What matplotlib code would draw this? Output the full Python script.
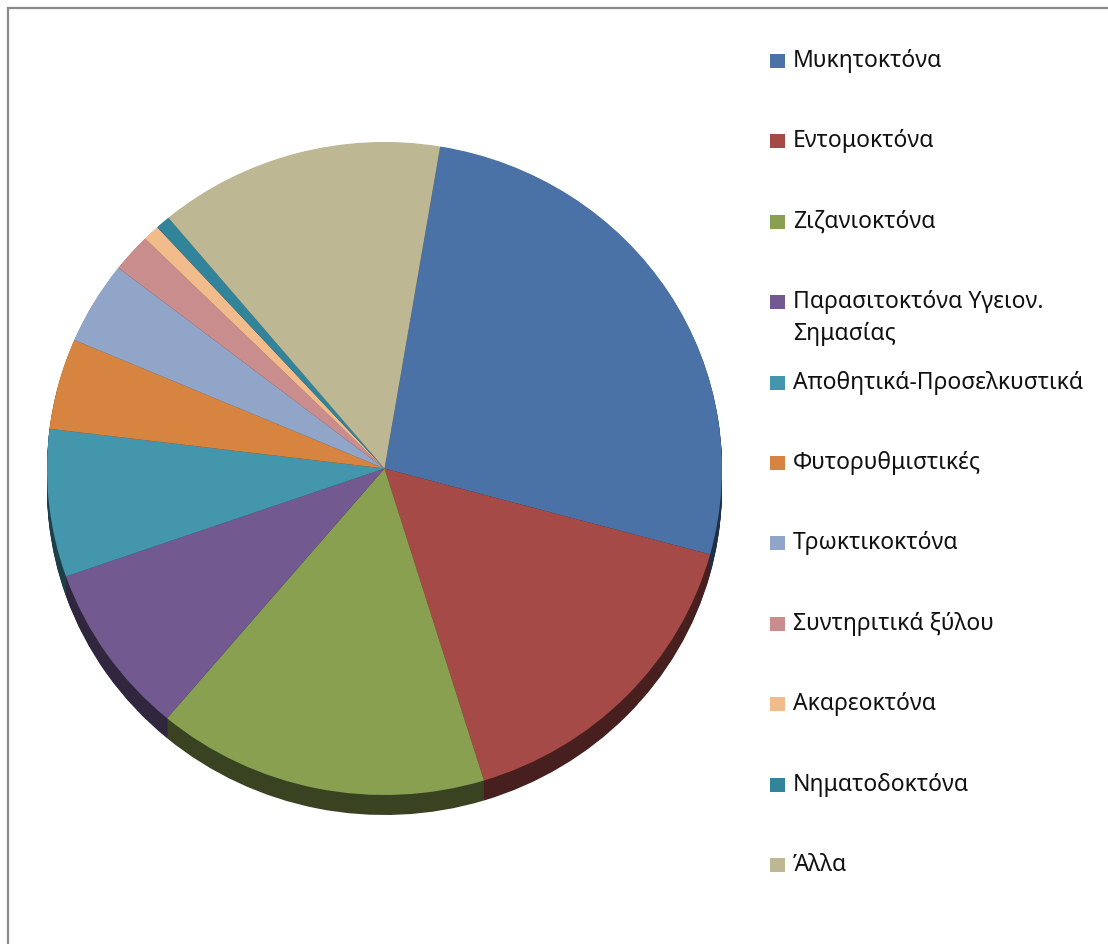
import matplotlib
matplotlib.use("Agg")
import matplotlib.pyplot as plt
from matplotlib.patches import Rectangle
import numpy as np

plt.rcParams['font.family'] = ['Noto Sans', 'DejaVu Sans']

# data (percent shares)
labels = ['Μυκητοκτόνα', 'Εντομοκτόνα', 'Ζιζανιοκτόνα',
          'Παρασιτοκτόνα Υγειον.\nΣημασίας', 'Αποθητικά-Προσελκυστικά',
          'Φυτορυθμιστικές', 'Τρωκτικοκτόνα', 'Συντηριτικά ξύλου',
          'Ακαρεοκτόνα', 'Νηματοδοκτόνα', 'Άλλα']
shares = [26.6, 16.0, 15.9, 8.5, 7.3, 4.5, 4.1, 1.9, 0.8, 0.7, 13.7]
colors = ['#4A72A6', '#A64A47', '#88A050', '#725A91', '#4496AC', '#D6843F',
          '#91A5C8', '#C98D8D', '#F2BB8B', '#32849B', '#BDB793']

W, H = 1108, 944
fig = plt.figure(figsize=(W / 100, H / 100), dpi=100)

# pie geometry in pixels
cx, cy = 384.5, 468.5
rx, ry = 337.5, 326.5
depth = 20

ax = fig.add_axes([(cx - rx) / W, (H - cy - ry - depth) / H, 2 * rx / W, (2 * ry + depth) / H])

side = [tuple(np.array(matplotlib.colors.to_rgb(c)) * 0.42) for c in colors]
for k in np.linspace(depth / ry, 0.002, 22):
    ax.pie(shares, colors=side, startangle=80.5, counterclock=False,
           center=(0, -k), wedgeprops=dict(linewidth=0))
ax.pie(shares, colors=colors, startangle=80.5, counterclock=False,
       wedgeprops=dict(linewidth=0))
ax.set_aspect('auto')
ax.set_xlim(-1, 1)
ax.set_ylim(-1 - depth / ry, 1)
ax.axis('off')

# legend drawn by hand (one entry every ~80 px)
for i, (lab, col) in enumerate(zip(labels, colors)):
    yc = 61 + 80.4 * i
    fig.add_artist(Rectangle((770 / W, 1 - (yc + 7) / H), 15 / W, 14 / H,
                             transform=fig.transFigure, facecolor=col, edgecolor='none'))
    for j, line in enumerate(lab.split('\n')):
        fig.text(793 / W, 1 - (yc + 32 * j) / H, line, fontsize=16.5,
                 color='#111111', va='center')

# chart border (only top and left visible)
fig.add_artist(Rectangle((8 / W, -0.1), 1.2, 1.1 - 8 / H, transform=fig.transFigure,
                         facecolor='none', edgecolor='#8a8a8a', linewidth=1.6))

fig.savefig('out.png', dpi=100)
